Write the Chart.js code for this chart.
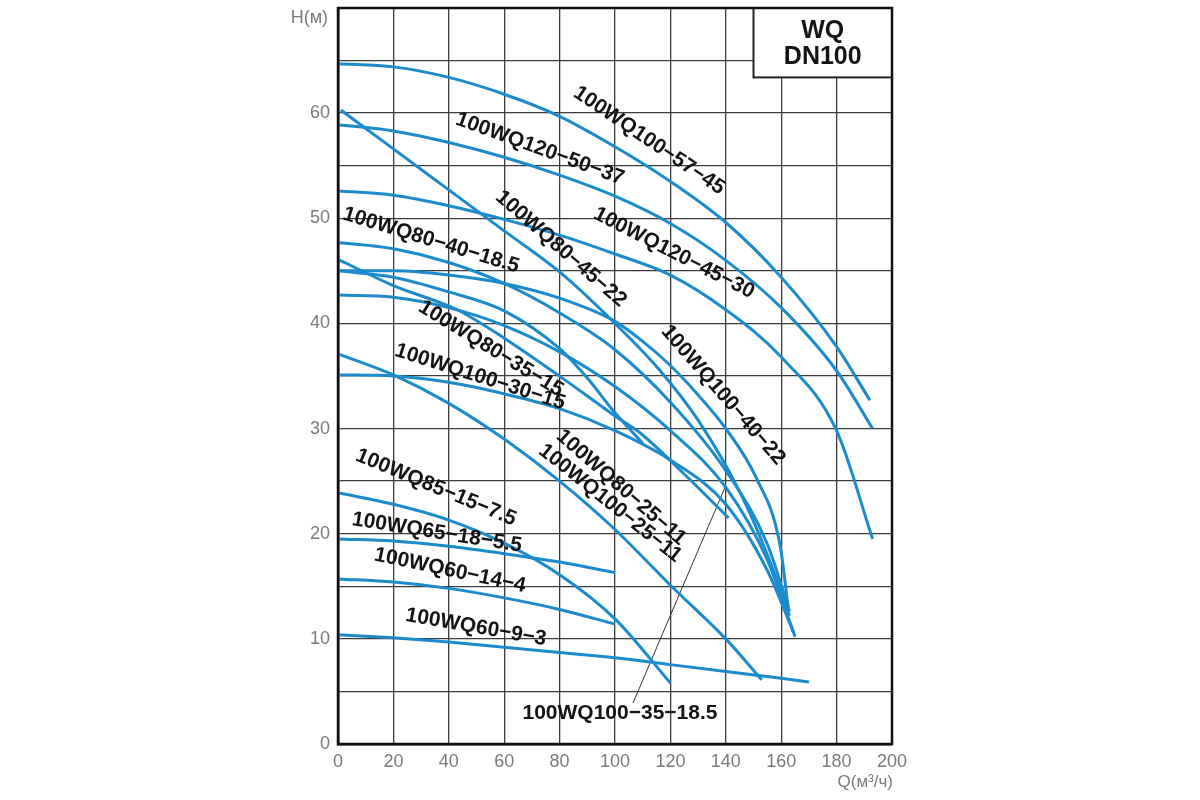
<!DOCTYPE html>
<html>
<head>
<meta charset="utf-8">
<title>WQ DN100</title>
<script src="https://cdn.jsdelivr.net/npm/chart.js@4.4.1/dist/chart.umd.min.js"></script>
<style>
  html, body { margin: 0; padding: 0; background: #fff; }
  canvas { display: block; }
</style>
</head>
<body>
<canvas id="pump-chart" width="1200" height="800"></canvas>
<script>
/* Pump curves: flow Q (m3/h) and head H (m) */
let q100_57_45 = [0, 20, 40, 60, 80, 100, 120, 140, 160, 180, 192]
let h100_57_45 = [64.7, 64.4, 63.4, 61.8, 59.7, 56.8, 53.5, 49.6, 44.4, 37.8, 32.7]

let q120_50_37 = [0, 20, 40, 60, 80, 100, 120, 140, 160, 180, 193]
let h120_50_37 = [58.9, 58.3, 57.2, 55.8, 54.1, 52.1, 49.5, 46.0, 41.5, 35.5, 30.0]

let q120_45_30 = [0, 20, 40, 60, 80, 100, 120, 140, 160, 180, 193]
let h120_45_30 = [52.6, 52.2, 51.2, 49.9, 48.4, 46.6, 44.6, 41.3, 36.8, 29.8, 19.5]

let q80_45_22 = [1, 20, 40, 60, 80, 100, 116, 130, 145, 155, 163]
let h80_45_22 = [60.3, 56.6, 52.7, 48.8, 44.9, 40.0, 35.6, 30.8, 24.0, 18.0, 12.2]

let q80_40_18 = [0, 20, 40, 60, 80, 100, 120, 140, 155, 163]
let h80_40_18 = [47.7, 47.1, 45.8, 43.8, 41.0, 37.5, 32.5, 26.0, 19.0, 12.6]

let q100_40_22 = [0, 20, 40, 60, 80, 100, 110, 120, 130, 140, 151, 159.6, 162.5]
let h100_40_22 = [45.0, 45.0, 44.6, 43.8, 42.4, 40.2, 38.3, 36.0, 33.2, 30.0, 25.3, 18.9, 13.0]

let q80_35_15 = [0, 20, 43, 60, 81, 100, 109, 124.5, 141]
let h80_35_15 = [46.1, 43.6, 41.3, 38.6, 34.8, 31.2, 29.6, 25.8, 21.5]

let q100_25_11 = [0, 20, 40, 60, 80, 90, 100, 110]
let h100_25_11 = [45.0, 44.4, 43.0, 41.2, 37.6, 34.8, 31.5, 28.6]

let q100_35_18 = [0, 20, 40, 60, 80, 100, 120, 140, 155, 165]
let h100_35_18 = [42.7, 42.5, 41.5, 39.8, 37.3, 34.0, 29.8, 24.4, 17.5, 10.2]

let q100_30_15 = [0, 20, 40, 60, 80, 100, 120, 140, 155, 164.5]
let h100_30_15 = [35.1, 35.0, 34.4, 33.3, 31.9, 29.8, 27.0, 22.8, 16.5, 10.6]

let q80_25_11 = [0, 20, 40, 60, 80, 100, 120, 140, 153]
let h80_25_11 = [37.1, 35.1, 32.4, 29.0, 25.0, 20.4, 15.1, 10.0, 6.1]

let q85_15_7 = [0, 20, 40, 60, 80, 100, 120]
let h85_15_7 = [23.9, 22.8, 21.3, 19.1, 16.1, 11.9, 5.8]

let q65_18_5 = [0, 20, 40, 60, 80, 100]
let h65_18_5 = [19.5, 19.3, 18.8, 18.1, 17.3, 16.3]

let q60_14_4 = [0, 20, 40, 60, 80, 100]
let h60_14_4 = [15.7, 15.4, 14.8, 13.9, 12.8, 11.4]

let q60_9_3 = [0, 20, 40, 60, 80, 100, 120, 140, 160, 170]
let h60_9_3 = [10.4, 10.1, 9.7, 9.2, 8.7, 8.2, 7.55, 6.9, 6.25, 5.9]

/* Leader line from the 100WQ100-35-18.5 caption to its curve */
let leaderQ = [106.5, 139.7]
let leaderH = [3.9, 24.4]

/* Tick labels */
let xTickValues = [0, 20, 40, 60, 80, 100, 120, 140, 160, 180, 200]
let yTickValues = [0, 10, 20, 30, 40, 50, 60]

let curves = [
    ['100WQ100-57-45', q100_57_45, h100_57_45],
    ['100WQ120-50-37', q120_50_37, h120_50_37],
    ['100WQ120-45-30', q120_45_30, h120_45_30],
    ['100WQ80-45-22', q80_45_22, h80_45_22],
    ['100WQ80-40-18.5', q80_40_18, h80_40_18],
    ['100WQ100-40-22', q100_40_22, h100_40_22],
    ['100WQ80-35-15', q80_35_15, h80_35_15],
    ['100WQ100-25-11', q100_25_11, h100_25_11],
    ['100WQ100-35-18.5', q100_35_18, h100_35_18],
    ['100WQ100-30-15', q100_30_15, h100_30_15],
    ['100WQ80-25-11', q80_25_11, h80_25_11],
    ['100WQ85-15-7.5', q85_15_7, h85_15_7],
    ['100WQ65-18-5.5', q65_18_5, h65_18_5],
    ['100WQ60-14-4', q60_14_4, h60_14_4],
    ['100WQ60-9-3', q60_9_3, h60_9_3]
]

/* Captions written along the curves: position in chart units and angle in degrees */
let curveLabels = [
    { text: '100WQ100−57−45', q: 112.3, h: 57.4, angle: 34 },
    { text: '100WQ120−50−37', q: 72.9, h: 56.6, angle: 20 },
    { text: '100WQ80−45−22', q: 80.5, h: 47.1, angle: 41 },
    { text: '100WQ120−45−30', q: 121.3, h: 46.7, angle: 27 },
    { text: '100WQ80−40−18.5', q: 33.6, h: 47.9, angle: 17 },
    { text: '100WQ100−40−22', q: 139, h: 33.2, angle: 49 },
    { text: '100WQ80−35−15', q: 55.2, h: 37.6, angle: 31.5 },
    { text: '100WQ100−30−15', q: 51.3, h: 34.9, angle: 17.7 },
    { text: '100WQ80−25−11', q: 102.2, h: 24.4, angle: 41 },
    { text: '100WQ100−25−11', q: 98.2, h: 22.9, angle: 38.6 },
    { text: '100WQ85−15−7.5', q: 35.4, h: 24.4, angle: 22.5 },
    { text: '100WQ65−18−5.5', q: 35.7, h: 20.1, angle: 9 },
    { text: '100WQ60−14−4', q: 40.4, h: 16.5, angle: 12 },
    { text: '100WQ60−9−3', q: 49.8, h: 11.1, angle: 10 },
    { text: '100WQ100−35−18.5', q: 101.8, h: 2.95, angle: 0 }
]

let curveColor = '#1b8bcb'
let labelFont = 'bold 21px "Liberation Sans", Arial, sans-serif'

let datasets = curves.map(function (c) {
    return {
        label: c[0],
        data: c[1].map(function (q, i) { return { x: q, y: c[2][i] } }),
        borderColor: curveColor,
        borderWidth: 3,
        pointRadius: 0,
        fill: false,
        cubicInterpolationMode: 'monotone'
    }
})

datasets.push({
    label: 'leader',
    data: leaderQ.map(function (q, i) { return { x: q, y: leaderH[i] } }),
    borderColor: '#333',
    borderWidth: 1,
    pointRadius: 0,
    fill: false
})

// Captions, the title box, the frame and the axis names
let chartExtras = {
    id: 'chartExtras',
    afterDatasetsDraw(chart) {
        let ctx = chart.ctx
        let xs = chart.scales.x
        let ys = chart.scales.y
        ctx.save()
        ctx.fillStyle = '#141414'
        ctx.font = labelFont
        ctx.textAlign = 'center'
        ctx.textBaseline = 'middle'
        curveLabels.forEach(function (l) {
            ctx.save()
            ctx.translate(xs.getPixelForValue(l.q), ys.getPixelForValue(l.h))
            ctx.rotate(l.angle * Math.PI / 180)
            ctx.fillText(l.text, 0, 0)
            ctx.restore()
        })
        ctx.restore()
    },
    afterDraw(chart) {
        let ctx = chart.ctx
        let area = chart.chartArea
        let xs = chart.scales.x
        let ys = chart.scales.y
        ctx.save()

        // title box in the top right corner
        let bx = xs.getPixelForValue(150)
        let by = ys.getPixelForValue(70)
        let bw = xs.getPixelForValue(200) - bx
        let bh = ys.getPixelForValue(63.4) - by
        ctx.fillStyle = '#fff'
        ctx.fillRect(bx, by, bw, bh)
        ctx.strokeStyle = '#222'
        ctx.lineWidth = 2
        ctx.strokeRect(bx, by, bw, bh)
        ctx.fillStyle = '#141414'
        ctx.font = 'bold 25px "Liberation Sans", Arial, sans-serif'
        ctx.textAlign = 'center'
        ctx.textBaseline = 'middle'
        ctx.fillText('WQ', bx + bw / 2, by + 23)
        ctx.fillText('DN100', bx + bw / 2, by + 49)

        // frame round the plot
        ctx.strokeStyle = '#111'
        ctx.lineWidth = 2.5
        ctx.strokeRect(area.left, area.top, area.right - area.left, area.bottom - area.top)

        // axis names
        ctx.fillStyle = '#7a7a7a'
        ctx.font = '18px "Liberation Sans", Arial, sans-serif'
        ctx.textAlign = 'right'
        ctx.fillText('H(м)', area.left - 10, area.top + 10)
        ctx.font = '17px "Liberation Sans", Arial, sans-serif'
        ctx.fillText('Q(м³/ч)', area.right + 1, area.bottom + 38)
        ctx.restore()
    }
}

let chartCanvas = document.querySelector('#pump-chart')
let ctx = chartCanvas.getContext('2d')

let pumpChart = new Chart(ctx, {
    type: 'line',
    data: { datasets: datasets },
    options: {
        responsive: false,
        animation: false,
        devicePixelRatio: 1,
        layout: { padding: { top: 8, right: 308, bottom: 0, left: 0 } },
        plugins: {
            legend: { display: false },
            tooltip: { enabled: false }
        },
        scales: {
            x: {
                type: 'linear',
                min: 0,
                max: 200,
                afterFit: function (scale) {
                    scale.height = 56
                    scale.paddingLeft = 0
                    scale.paddingRight = 0
                },
                afterBuildTicks: function (scale) {
                    scale.ticks = xTickValues.map(function (v) { return { value: v } })
                },
                grid: { color: '#3c3c3c', lineWidth: 1.3, drawTicks: false },
                border: { color: '#111', width: 2.5 },
                ticks: {
                    padding: 7,
                    color: '#7a7a7a',
                    font: { family: 'Liberation Sans', size: 18 }
                }
            },
            y: {
                type: 'linear',
                min: 0,
                max: 70,
                afterFit: function (scale) {
                    scale.width = 338
                    scale.paddingTop = 0
                    scale.paddingBottom = 0
                },
                ticks: {
                    stepSize: 5,
                    padding: 8,
                    color: '#7a7a7a',
                    font: { family: 'Liberation Sans', size: 18 },
                    callback: function (value) {
                        return yTickValues.includes(value) ? value : ''
                    }
                },
                grid: { color: '#3c3c3c', lineWidth: 1.3, drawTicks: false },
                border: { color: '#111', width: 2.5 }
            }
        }
    },
    plugins: [chartExtras]
})
</script>
</body>
</html>
